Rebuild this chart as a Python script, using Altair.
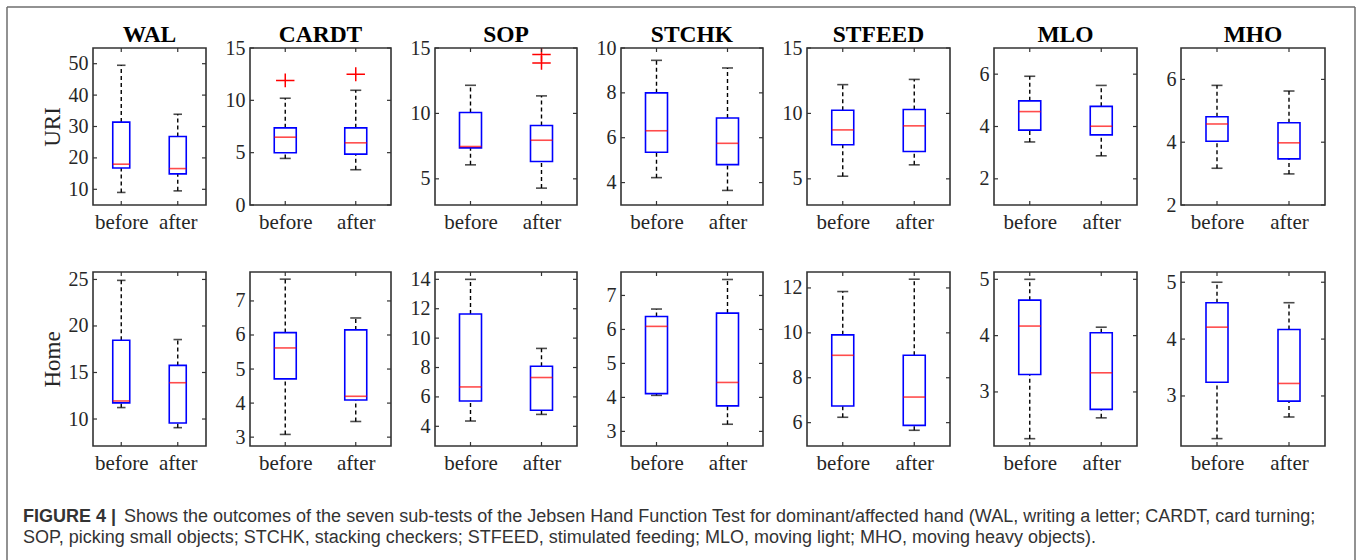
import altair as alt
import pandas as pd

# ---------------- data ----------------
TESTS = ["WAL", "CARDT", "SOP", "STCHK", "STFEED", "MLO", "MHO"]
GROUPS = ["before", "after"]
ROW_LABELS = ["URI", "Home"]

# URI row (whisker low, Q1, median, Q3, whisker high)
URI_BEFORE_LO = [9.0, 4.45, 6.07, 4.22, 5.2, 3.41, 3.17]
URI_BEFORE_Q1 = [16.8, 4.99, 7.37, 5.35, 7.6, 3.86, 4.03]
URI_BEFORE_MED = [18.0, 6.48, 7.47, 6.31, 8.74, 4.57, 4.58]
URI_BEFORE_Q3 = [31.4, 7.37, 10.07, 8.0, 10.24, 4.98, 4.81]
URI_BEFORE_HI = [49.5, 10.2, 12.15, 9.45, 12.2, 5.92, 5.81]
URI_AFTER_LO = [9.5, 3.37, 4.29, 3.65, 6.07, 2.88, 2.99]
URI_AFTER_Q1 = [14.9, 4.86, 6.33, 4.8, 7.09, 3.68, 3.47]
URI_AFTER_MED = [16.6, 5.94, 7.95, 5.75, 9.05, 4.01, 3.98]
URI_AFTER_Q3 = [26.8, 7.37, 9.08, 6.88, 10.3, 4.77, 4.62]
URI_AFTER_HI = [33.9, 10.96, 11.34, 9.11, 12.6, 5.57, 5.63]
URI_OUT_TEST = ["CARDT", "CARDT", "SOP", "SOP"]
URI_OUT_GROUP = ["before", "after", "after", "after"]
URI_OUT_VALUE = [11.9, 12.49, 13.86, 14.5]
URI_Y_MIN = [5, 0, 3, 3, 3, 1, 2]
URI_Y_MAX = [55, 15, 15, 10, 15, 7, 7]
URI_TICKS = [[10, 20, 30, 40, 50], [0, 5, 10, 15], [5, 10, 15], [4, 6, 8, 10],
             [5, 10, 15], [2, 4, 6], [2, 4, 6]]

# Home row
HOME_BEFORE_LO = [11.23, 3.08, 4.36, 4.06, 6.24, 2.17, 2.25]
HOME_BEFORE_Q1 = [11.73, 4.71, 5.72, 4.11, 6.74, 3.31, 3.24]
HOME_BEFORE_MED = [11.94, 5.62, 6.68, 6.09, 9.0, 4.17, 4.21]
HOME_BEFORE_Q3 = [18.47, 6.07, 11.64, 6.38, 9.91, 4.63, 4.64]
HOME_BEFORE_HI = [24.9, 7.64, 14.0, 6.6, 11.84, 5.0, 5.0]
HOME_AFTER_LO = [9.07, 3.46, 4.81, 3.21, 5.66, 2.54, 2.63]
HOME_AFTER_Q1 = [9.57, 4.09, 5.09, 3.75, 5.88, 2.69, 2.91]
HOME_AFTER_MED = [13.9, 4.2, 7.32, 4.44, 7.14, 3.34, 3.22]
HOME_AFTER_Q3 = [15.76, 6.15, 8.09, 6.48, 9.0, 4.05, 4.17]
HOME_AFTER_HI = [18.54, 6.5, 9.3, 7.47, 12.39, 4.15, 4.64]
HOME_OUT_TEST = []
HOME_OUT_GROUP = []
HOME_OUT_VALUE = []
HOME_Y_MIN = [7.1, 2.74, 2.66, 2.57, 4.96, 2.04, 2.12]
HOME_Y_MAX = [25.8, 7.85, 14.5, 7.69, 12.71, 5.13, 5.18]
HOME_TICKS = [[10, 15, 20, 25], [3, 4, 5, 6, 7], [4, 6, 8, 10, 12, 14], [3, 4, 5, 6, 7],
              [6, 8, 10, 12], [3, 4, 5], [3, 4, 5]]

CAPTION_LABEL = "FIGURE 4 |"
CAPTION_LINE1 = ("Shows the outcomes of the seven sub-tests of the Jebsen Hand Function Test for "
                 "dominant/affected hand (WAL, writing a letter; CARDT, card turning;")
CAPTION_LINE2 = ("SOP, picking small objects; STCHK, stacking checkers; STFEED, stimulated feeding; "
                 "MLO, moving light; MHO, moving heavy objects).")

# ---------------- layout / style ----------------
WIDTHS = [113, 141, 142, 142, 143, 143, 144]
ROW_HEIGHTS = [157, 174]
SERIF = "Liberation Serif"
SANS = "Liberation Sans"
TXT = "#262626"
FRAME = "#333333"

ROWS = [
    dict(b=[URI_BEFORE_LO, URI_BEFORE_Q1, URI_BEFORE_MED, URI_BEFORE_Q3, URI_BEFORE_HI],
         a=[URI_AFTER_LO, URI_AFTER_Q1, URI_AFTER_MED, URI_AFTER_Q3, URI_AFTER_HI],
         ot=URI_OUT_TEST, og=URI_OUT_GROUP, ov=URI_OUT_VALUE,
         ymin=URI_Y_MIN, ymax=URI_Y_MAX, ticks=URI_TICKS),
    dict(b=[HOME_BEFORE_LO, HOME_BEFORE_Q1, HOME_BEFORE_MED, HOME_BEFORE_Q3, HOME_BEFORE_HI],
         a=[HOME_AFTER_LO, HOME_AFTER_Q1, HOME_AFTER_MED, HOME_AFTER_Q3, HOME_AFTER_HI],
         ot=HOME_OUT_TEST, og=HOME_OUT_GROUP, ov=HOME_OUT_VALUE,
         ymin=HOME_Y_MIN, ymax=HOME_Y_MAX, ticks=HOME_TICKS),
]

PLUS = "M-1,0H1M0,-0.75V0.75"


def panel(i, r):
    S = ROWS[r]
    w = WIDTHS[i]
    h = ROW_HEIGHTS[r]
    names = ["lo", "q1", "med", "q3", "hi"]
    df = pd.DataFrame({"group": GROUPS})
    for k, n in enumerate(names):
        df[n] = [S["b"][k][i], S["a"][k][i]]
    ysc = alt.Scale(domain=[S["ymin"][i], S["ymax"][i]], nice=False, zero=False)
    xsc = alt.Scale(type="point", domain=GROUPS, padding=0.5)
    bw = 17 if i == 0 else 22
    cw = bw / 2

    if i == 0:
        yaxis = alt.Axis(values=S["ticks"][i], ticks=False, domain=False, grid=False,
                         labelFont=SERIF, labelFontSize=20, labelColor=TXT, labelPadding=5,
                         title=ROW_LABELS[r], titleFont=SERIF, titleFontSize=23,
                         titleFontWeight="normal", titleColor=TXT, titleAngle=270,
                         titleX=-41, titleY=h / 2, titleAlign="center", titleBaseline="middle")
    else:
        yaxis = alt.Axis(values=S["ticks"][i], ticks=False, domain=False, grid=False,
                         labelFont=SERIF, labelFontSize=20, labelColor=TXT, labelPadding=5,
                         title=None)
    xaxis = alt.Axis(ticks=False, domain=False, grid=False, labelAngle=0, labelFont=SERIF,
                     labelFontSize=21, labelColor=TXT, labelPadding=6, title=None)

    def Y(field):
        return alt.Y(field, scale=ysc, axis=yaxis)

    X = alt.X("group:N", scale=xsc, axis=xaxis)
    base = alt.Chart(df)
    layers = [
        base.mark_rule(color="black", strokeWidth=1.4, strokeDash=[4, 3]).encode(
            x=X, y=Y("q3:Q"), y2="hi:Q"),
        base.mark_rule(color="black", strokeWidth=1.4, strokeDash=[4, 3]).encode(
            x=X, y=Y("lo:Q"), y2="q1:Q"),
        base.mark_tick(color="black", size=cw, thickness=1.6).encode(x=X, y=Y("hi:Q")),
        base.mark_tick(color="black", size=cw, thickness=1.6).encode(x=X, y=Y("lo:Q")),
        base.mark_bar(size=bw, fillOpacity=0, stroke="#0000ff", strokeWidth=1.6).encode(
            x=X, y=Y("q1:Q"), y2="q3:Q"),
        base.mark_tick(color="#ff0000", size=bw, thickness=1.6).encode(x=X, y=Y("med:Q")),
    ]
    ov = [(g, v) for t, g, v in zip(S["ot"], S["og"], S["ov"]) if t == TESTS[i]]
    if ov:
        odf = pd.DataFrame({"group": [g for g, _ in ov], "v": [v for _, v in ov]})
        layers.append(
            alt.Chart(odf).mark_point(shape=PLUS, size=340, filled=False, color="#ff0000",
                                      strokeWidth=1.5, opacity=1, clip=True).encode(
                x=X, y=Y("v:Q")))
    tdf = pd.DataFrame({"v": S["ticks"][i]})
    gdf = pd.DataFrame({"group": GROUPS})
    tk = dict(color=FRAME, strokeWidth=1.2)
    layers += [
        alt.Chart(tdf).mark_rule(**tk).encode(y=Y("v:Q"), x=alt.value(0), x2=alt.value(4)),
        alt.Chart(tdf).mark_rule(**tk).encode(y=Y("v:Q"), x=alt.value(w - 4), x2=alt.value(w)),
        alt.Chart(gdf).mark_rule(**tk).encode(x=X, y=alt.value(0), y2=alt.value(4)),
        alt.Chart(gdf).mark_rule(**tk).encode(x=X, y=alt.value(h - 4), y2=alt.value(h)),
    ]
    if r == 0:
        layers.append(
            alt.Chart(pd.DataFrame({"t": [TESTS[i]]})).mark_text(
                font=SERIF, fontSize=23.5, fontWeight="bold", color="black", align="center",
                baseline="alphabetic").encode(text="t:N", x=alt.value(w / 2), y=alt.value(-6)))
    return alt.layer(*layers).properties(width=w, height=h)


# caption + outer frame (origin of this view = left of first column, 67px below row 2);
# the view itself is small so it does not widen the first column.
cap_df = pd.DataFrame({"k": [0]})
cb = alt.Chart(cap_df)
border = dict(color="#6e6e6e", strokeWidth=1.5)
CAP_FS = 18
caption = alt.layer(
    cb.mark_rule(**border).encode(x=alt.value(-86), y=alt.value(-506), y2=alt.value(47)),
    cb.mark_rule(**border).encode(x=alt.value(1262), y=alt.value(-506), y2=alt.value(47)),
    cb.mark_rule(**border).encode(x=alt.value(-86), x2=alt.value(1262), y=alt.value(-506)),
    cb.mark_text(font=SANS, fontSize=CAP_FS, fontWeight="bold", color="#333333", align="left",
                 baseline="alphabetic").encode(x=alt.value(-70), y=alt.value(9),
                                               text=alt.value(CAPTION_LABEL)),
    cb.mark_text(font=SANS, fontSize=CAP_FS, color="#333333", align="left",
                 baseline="alphabetic").encode(x=alt.value(31), y=alt.value(9),
                                               text=alt.value(CAPTION_LINE1)),
    cb.mark_text(font=SANS, fontSize=CAP_FS, color="#333333", align="left",
                 baseline="alphabetic").encode(x=alt.value(-70), y=alt.value(30),
                                               text=alt.value(CAPTION_LINE2)),
).properties(width=100, height=46, view=alt.ViewBackground(stroke="transparent"))

panels = [panel(i, 0) for i in range(7)] + [panel(i, 1) for i in range(7)] + [caption]

chart = alt.concat(
    *panels, columns=7, spacing=alt.RowColnumber(row=67, column=44), bounds="flush",
    align="each",
).properties(
    padding={"left": 5, "top": 5, "right": 0, "bottom": 0},
    background="white",
).configure_view(stroke=FRAME, strokeWidth=1.6)

chart.save("out.html", embed_options={"renderer": "svg", "actions": False})
